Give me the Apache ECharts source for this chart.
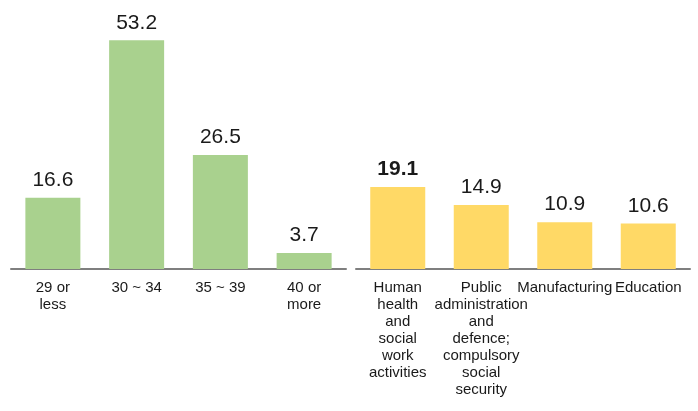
<!DOCTYPE html>
<html>
<head>
<meta charset="utf-8">
<script src="https://cdn.jsdelivr.net/npm/echarts@6/dist/echarts.min.js"></script>
<style>
html,body{margin:0;padding:0;background:#fff;}
#chart{width:698px;height:411px;}
</style>
</head>
<body>
<div id="chart"></div>
<script>
const ageCategories = ['29 or less', '30 ~ 34', '35 ~ 39', '40 or more'];
const ageValues = [16.6, 53.2, 26.5, 3.7];
const industryCategories = ['Human health and social work activities', 'Public administration and defence; compulsory social security', 'Manufacturing', 'Education'];
const industryValues = [19.1, 14.9, 10.9, 10.6];

const FONT = '"Liberation Sans", Arial, sans-serif';
const chart = echarts.init(document.getElementById('chart'), null, {renderer: 'canvas'});

const valueLabel = {
  show: true, position: 'top', distance: 7,
  fontFamily: FONT, fontSize: 21, color: '#1a1a1a'
};
function catAxis(idx, data, formatter) {
  return {
    type: 'category', gridIndex: idx, data: data,
    axisLine: {show: true, lineStyle: {color: '#7f7f7f', width: 2}},
    axisTick: {show: false},
    axisLabel: {
      interval: 0, margin: 10, fontFamily: FONT, fontSize: 15, lineHeight: 17,
      color: '#1a1a1a', formatter: formatter
    }
  };
}
function valAxis(idx) {
  return {
    type: 'value', gridIndex: idx, min: 0, max: 53.5,
    show: false, splitLine: {show: false}
  };
}

chart.setOption({
  animation: false,
  backgroundColor: '#ffffff',
  grid: [
    {left: 11, width: 335, top: 39, height: 230},
    {left: 356, width: 334, top: 39, height: 230}
  ],
  xAxis: [
    catAxis(0, ageCategories, function (v) {
      return v.replace(' or ', ' or\n');
    }),
    catAxis(1, industryCategories, function (v) {
      return v.split(' ').join('\n');
    })
  ],
  yAxis: [valAxis(0), valAxis(1)],
  series: [
    {
      type: 'bar', xAxisIndex: 0, yAxisIndex: 0, data: ageValues,
      barWidth: 55, itemStyle: {color: '#a9d18e'}, label: valueLabel
    },
    {
      type: 'bar', xAxisIndex: 1, yAxisIndex: 1,
      data: industryValues.map(function (v, i) {
        return i === 0 ? {value: v, label: {fontWeight: 'bold'}} : v;
      }),
      barWidth: 55, itemStyle: {color: '#ffd966'}, label: valueLabel
    }
  ]
});
</script>
</body>
</html>
